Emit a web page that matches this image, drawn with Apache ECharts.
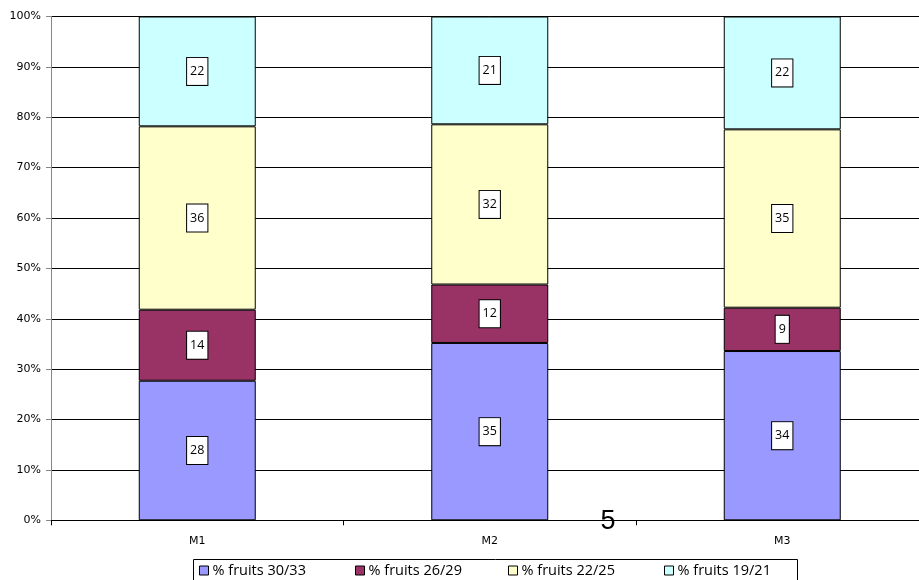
<!DOCTYPE html>
<html>
<head>
<meta charset="utf-8">
<script src="https://cdn.jsdelivr.net/npm/echarts@6/dist/echarts.min.js"></script>
<style>
html,body{margin:0;padding:0;background:#fff;overflow:hidden;width:919px;height:580px;}
#chart{width:935px;height:580px;}
</style>
</head>
<body>
<div id="chart"></div>
<script>
var categories = ['M1', 'M2', 'M3'];
var seriesNames = ['% fruits 30/33', '% fruits 26/29', '% fruits 22/25', '% fruits 19/21'];
var s3033 = [27.7, 35.2, 33.6];
var s2629 = [14.1, 11.6, 8.6];
var s2225 = [36.4, 31.8, 35.4];
var s1921 = [21.8, 21.4, 22.4];
var yTicks = [0, 10, 20, 30, 40, 50, 60, 70, 80, 90, 100];
var colors = ['#9999FF', '#993366', '#FFFFCC', '#CCFFFF'];

var values = [s3033, s2629, s2225, s1921];
var legendLefts = [199, 355, 508, 664];
var chart = echarts.init(document.getElementById('chart'));

var series = values.map(function (arr, i) {
  return {
    name: seriesNames[i],
    type: 'bar',
    stack: 'total',
    barWidth: '40%',
    data: arr,
    itemStyle: { color: colors[i], borderColor: '#000', borderWidth: 1 },
    label: {
      show: true,
      position: 'inside',
      formatter: function (p) { return Math.round(p.value); },
      fontFamily: 'Open Sans',
      fontSize: 12.5,
      color: '#000',
      backgroundColor: '#fff',
      borderColor: '#000',
      borderWidth: 1,
      padding: [6, 3, 6, 3],
      lineHeight: 15
    },
    emphasis: { disabled: true }
  };
});

var legends = seriesNames.map(function (n, i) {
  return {
    left: legendLefts[i],
    top: 563,
    itemWidth: 9,
    itemHeight: 9,
    icon: 'rect',
    padding: 0,
    data: [{ name: n, itemStyle: { color: colors[i], borderColor: '#000', borderWidth: 1 } }],
    textStyle: { fontFamily: 'Open Sans', fontSize: 14.5, color: '#000', padding: [0, 0, 0, -1] }
  };
});

chart.setOption({
  animation: false,
  grid: { left: 51, top: 16.5, width: 877.5, height: 503.8, containLabel: false },
  legend: legends,
  xAxis: {
    type: 'category',
    data: categories,
    axisLine: { lineStyle: { color: '#000', width: 1 } },
    axisTick: { show: true, alignWithLabel: false, length: 5, lineStyle: { color: '#000' } },
    axisLabel: { fontFamily: 'DejaVu Sans', fontSize: 11, color: '#000', margin: 15 }
  },
  yAxis: {
    type: 'value',
    min: 0,
    max: 100,
    interval: 10,
    axisLine: { show: true, lineStyle: { color: '#868686', width: 1 } },
    axisTick: { show: true, length: 5, lineStyle: { color: '#868686' } },
    axisLabel: { fontFamily: 'DejaVu Sans', fontSize: 11, color: '#000', margin: 10,
      formatter: function (v) { return yTicks.indexOf(v) >= 0 ? v + '%' : ''; } },
    splitLine: { show: true, lineStyle: { color: '#000', width: 1 } }
  },
  graphic: [
    {
      type: 'rect',
      shape: { x: 193.5, y: 559.5, width: 604, height: 30 },
      style: { fill: 'none', stroke: '#000', lineWidth: 1 },
      z: 0
    },
    {
      type: 'text',
      x: 608, y: 522,
      style: { text: '5', fontFamily: 'Liberation Sans', fontSize: 27, fill: '#000', align: 'center', verticalAlign: 'middle' },
      z: 100
    }
  ],
  series: series
});
</script>
</body>
</html>
